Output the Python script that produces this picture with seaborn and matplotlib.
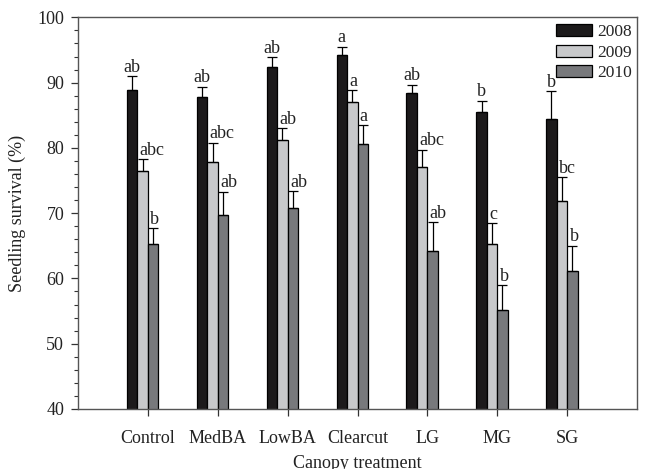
import matplotlib
matplotlib.use("Agg")
import matplotlib.pyplot as plt
from matplotlib.ticker import MultipleLocator
import numpy as np
import pandas as pd
import seaborn as sns

treatments = ["Control", "MedBA", "LowBA", "Clearcut", "LG", "MG", "SG"]
years = ["2008", "2009", "2010"]

survival_2008 = [88.8, 87.8, 92.4, 94.3, 88.4, 85.5, 84.4]
survival_2009 = [76.5, 77.9, 81.2, 87.1, 77.0, 65.2, 71.9]
survival_2010 = [65.2, 69.7, 70.8, 80.6, 64.2, 55.1, 61.2]

se_2008 = [2.2, 1.6, 1.5, 1.2, 1.3, 1.7, 4.3]
se_2009 = [1.8, 2.9, 1.8, 1.7, 2.7, 3.3, 3.6]
se_2010 = [2.5, 3.6, 2.6, 2.9, 4.4, 3.9, 3.8]

letters_2008 = ["ab", "ab", "ab", "a", "ab", "b", "b"]
letters_2009 = ["abc", "abc", "ab", "a", "abc", "c", "bc"]
letters_2010 = ["b", "ab", "ab", "a", "ab", "b", "b"]

colors = ["#1c1a1b", "#c8c9cb", "#78797c"]

sns.set_style("ticks")
plt.rcParams["font.family"] = ["Liberation Serif", "DejaVu Serif"]

df = pd.DataFrame({
    "treatment": treatments * 3,
    "year": sum([[y] * len(treatments) for y in years], []),
    "survival": survival_2008 + survival_2009 + survival_2010,
})

fig, ax = plt.subplots(figsize=(6.48, 4.69), dpi=100)
fig.subplots_adjust(left=0.1204, right=0.983, bottom=0.128, top=0.963)

sns.barplot(data=df, x="treatment", y="survival", hue="year", order=treatments,
            hue_order=years, palette=colors, width=0.45, edgecolor="black",
            linewidth=0.9, errorbar=None, ax=ax)

bar_groups = list(ax.containers)[:len(years)]

# the category tick falls on the join between the 2009 and 2010 bars
for cont in bar_groups:
    for bar in cont.patches:
        bar.set_x(bar.get_x() - bar.get_width() / 2)

errs = [se_2008, se_2009, se_2010]
lets = [letters_2008, letters_2009, letters_2010]
vals = [survival_2008, survival_2009, survival_2010]
for k, cont in enumerate(bar_groups):
    for i, bar in enumerate(cont.patches):
        xc = bar.get_x() + bar.get_width() / 2
        top = vals[k][i]
        e = errs[k][i]
        ax.errorbar(xc, top, yerr=[[0], [e]], fmt="none", ecolor="black",
                    elinewidth=0.9, capsize=3.8, capthick=0.9, zorder=3)
        if k == 0:
            # first-year letters sit centred over their bar
            ax.annotate(lets[k][i], (xc, top + e), xytext=(0, 3.2),
                        textcoords="offset points", ha="center", va="baseline",
                        fontsize=13, color="#222222", zorder=6)
        else:
            # later years start at the bar's left edge to clear the neighbour
            ax.annotate(lets[k][i], (bar.get_x(), top + e), xytext=(1.7, 3.2),
                        textcoords="offset points", ha="left", va="baseline",
                        fontsize=13, color="#222222", zorder=6)

ax.set_xlim(-1, 7)
ax.set_ylim(40, 100)
ax.yaxis.set_major_locator(MultipleLocator(10))
ax.yaxis.set_minor_locator(MultipleLocator(2))
ax.tick_params(axis="y", which="major", length=5, width=0.9, pad=5, labelsize=13, colors="#333333")
ax.tick_params(axis="y", which="minor", length=3, width=0.8, colors="#333333")
ax.tick_params(axis="x", length=5, width=0.9, pad=10, labelsize=13, colors="#333333")
for lab in ax.get_xticklabels() + ax.get_yticklabels():
    lab.set_color("#222222")

for s in ax.spines.values():
    s.set_visible(True)
    s.set_color("#555555")
    s.set_linewidth(1.0)

ax.set_xlabel("Canopy treatment", fontsize=13, labelpad=6, color="#222222")
ax.set_ylabel("Seedling survival (%)", fontsize=13, labelpad=8, color="#222222")

leg = ax.legend(loc="upper right", bbox_to_anchor=(1.004, 1.0), frameon=False,
                fontsize=12.5, handlelength=2.1, handleheight=0.7,
                handletextpad=0.3, labelspacing=0.25, borderaxespad=0.2,
                borderpad=0.2, title=None)

fig.savefig("out.png", dpi=100)
